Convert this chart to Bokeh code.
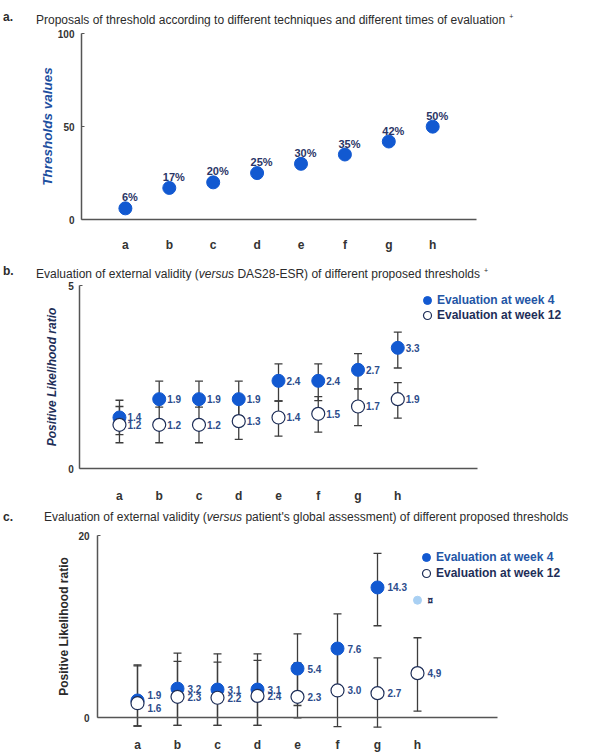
from bokeh.plotting import figure
from bokeh.layouts import column
from bokeh.models import (ColumnDataSource, Range1d, FixedTicker, Whisker, TeeHead,
                          Legend, LegendItem, Div)
from bokeh.core.properties import value
from bokeh.embed import file_html
from bokeh.resources import INLINE

# ---------------- data ----------------
categories = ["a", "b", "c", "d", "e", "f", "g", "h"]

# panel a: proposed thresholds (%)
a_thresholds = [6, 17, 20, 25, 30, 35, 42, 50]

# panel b: positive likelihood ratio vs DAS28-ESR
b_week4 = [1.4, 1.9, 1.9, 1.9, 2.4, 2.4, 2.7, 3.3]
b_week4_lower = [0.93, 1.68, 1.68, 1.45, 1.85, 1.86, 2.18, 2.75]
b_week4_upper = [1.87, 2.39, 2.39, 2.39, 2.86, 2.86, 3.14, 3.73]
b_week12 = [1.2, 1.2, 1.2, 1.3, 1.4, 1.5, 1.7, 1.9]
b_week12_lower = [0.71, 0.71, 0.71, 0.80, 0.89, 1.00, 1.18, 1.38]
b_week12_upper = [1.70, 1.90, 1.90, 1.85, 1.85, 1.97, 2.18, 2.35]

# panel c: positive likelihood ratio vs patient's global assessment
c_week4_cats = ["a", "b", "c", "d", "e", "f", "g"]
c_week4 = [1.9, 3.2, 3.1, 3.1, 5.4, 7.6, 14.3]
c_week4_lower = [-0.9, -0.84, -0.84, -0.84, 1.35, 2.9, 10.1]
c_week4_upper = [5.81, 7.1, 7.02, 7.02, 9.21, 11.4, 18.04]
c_week4_labels = ["1.9", "3.2", "3.1", "3.1", "5.4", "7.6", "14.3"]
c_week12 = [1.6, 2.3, 2.2, 2.4, 2.3, 3.0, 2.7, 4.9]
c_week12_lower = [-0.9, -0.84, -0.84, -0.84, 0.0, -0.96, -1.03, 0.73]
c_week12_upper = [5.70, 6.2, 6.1, 6.29, 6.03, 7.5, 6.57, 8.78]
c_week12_labels = ["1.6", "2.3", "2.2", "2.4", "2.3", "3.0", "2.7", "4,9"]
c_pending_cat = "h"
c_pending_value = 12.9
c_pending_label = "\u00a4"

# ---------------- styles / layout ----------------
FONT = "Liberation Sans"
BLUE = "#1259d1"
NAVY = "#1e2e58"
LABEL_BLUE = "#2d4d8c"
AXIS = "#555555"
WHISK = "#3d3d3d"

W = 600

idx = {c: i for i, c in enumerate(categories)}
overrides = {i: c for i, c in enumerate(categories)}


def xrange_for(axis_px, spacing):
    # category index -1 sits on the y axis at pixel axis_px (frame = whole figure)
    start = -1 - axis_px / spacing
    return Range1d(start, start + W / spacing)


def yrange_for(fig_top, fig_h, top_px, zero_px, vmax):
    ppu = (zero_px - top_px) / vmax
    end = vmax + (top_px - fig_top) / ppu
    start = -(fig_top + fig_h - zero_px) / ppu
    return Range1d(start, end), ppu


def title_div(letter, html, left, height, pad):
    t = ('<div style="position:relative;width:600px;height:%dpx;'
         "font-family:'Liberation Sans',Arial,sans-serif;font-size:12px;color:#2b2b2b;"
         'white-space:nowrap">'
         '<span style="position:absolute;left:3px;top:%dpx;line-height:18px;font-weight:bold">%s</span>'
         '<span style="position:absolute;left:%dpx;top:%dpx;line-height:18px">%s</span></div>'
         ) % (height, pad, letter, left, pad, html)
    return Div(text=t, width=W, height=height, margin=(0, 0, 0, 0))


def make_fig(h, xr, yr):
    return figure(width=W, height=h, x_range=xr, y_range=yr, output_backend="svg",
                  toolbar_location=None, min_border_left=0, min_border_right=0,
                  min_border_top=0, min_border_bottom=0)


def style_axes(p, yticks, ybounds, xbounds, ylabel, ylabel_style, ylabel_color,
               ylabel_size, ystand, ylabstand, xstand):
    p.outline_line_color = None
    p.grid.visible = False
    p.background_fill_color = "white"
    ax = p.xaxis[0]
    ax.fixed_location = 0
    ax.bounds = xbounds
    ax.ticker = FixedTicker(ticks=list(range(len(categories))))
    ax.major_label_overrides = overrides
    ax.major_tick_line_color = None
    ax.minor_tick_line_color = None
    ax.axis_line_color = AXIS
    ax.axis_line_width = 1.5
    ax.major_label_text_font = FONT
    ax.major_label_text_font_style = "bold"
    ax.major_label_text_font_size = "12px"
    ax.major_label_text_color = "#333333"
    ax.major_label_standoff = xstand
    ay = p.yaxis[0]
    ay.fixed_location = -1
    ay.bounds = ybounds
    ay.ticker = FixedTicker(ticks=yticks)
    ay.minor_tick_line_color = None
    ay.major_tick_in = 3
    ay.major_tick_out = 0
    ay.major_tick_line_color = AXIS
    ay.axis_line_color = AXIS
    ay.axis_line_width = 1.5
    ay.major_label_text_font = FONT
    ay.major_label_text_font_style = "bold"
    ay.major_label_text_font_size = "10px"
    ay.major_label_text_color = "#333333"
    ay.major_label_standoff = ystand
    ay.axis_label = ylabel
    ay.axis_label_text_font = FONT
    ay.axis_label_text_font_style = ylabel_style
    ay.axis_label_text_font_size = ylabel_size
    ay.axis_label_text_color = ylabel_color
    ay.axis_label_standoff = ylabstand


def add_whiskers(p, src, lower, upper):
    w = Whisker(source=src, base="x", lower=lower, upper=upper, dimension="height",
                line_color=WHISK, line_width=1.3, level="underlay",
                upper_head=TeeHead(size=8, line_color=WHISK, line_width=1.3),
                lower_head=TeeHead(size=8, line_color=WHISK, line_width=1.3))
    p.add_layout(w)


def add_legend(p, r4, r12, x, y4, y12):
    for r, lab, col, yy in ((r4, "Evaluation at week 4", "#2355a5", y4),
                            (r12, "Evaluation at week 12", NAVY, y12)):
        lg = Legend(items=[LegendItem(label=lab, renderers=[r])], location=(x, yy),
                    glyph_width=20, glyph_height=20, label_height=20, label_standoff=0,
                    padding=0, margin=0, spacing=0, border_line_color=None,
                    background_fill_alpha=0, label_text_font=FONT,
                    label_text_font_style="bold", label_text_font_size="12px",
                    label_text_color=col)
        p.add_layout(lg)


# ---------------- panel a ----------------
A_TOP, A_H = 26, 236
yr_a, _ = yrange_for(A_TOP, A_H, 33.3, 219.0, 100)
pa = make_fig(A_H, xrange_for(81, 43.9), yr_a)
style_axes(pa, [0, 50, 100], (0, 100), (-1, 8), "Thresholds values", "bold italic",
           "#1d4f9f", "13.5px", 7, 0, 12)
src_a = ColumnDataSource(dict(x=[idx[c] for c in categories], y=a_thresholds,
                              label=["%d%%" % v for v in a_thresholds]))
pa.scatter("x", "y", source=src_a, size=13, fill_color=BLUE, line_color=BLUE)
pa.text("x", "y", text="label", source=src_a, x_offset=4.5, y_offset=-11,
        text_align="center", text_baseline="middle", text_font=value(FONT),
        text_font_style="bold", text_font_size="11px", text_color="#2a3566")

# ---------------- panel b ----------------
B_TOP, B_H = 280, 228
yr_b, _ = yrange_for(B_TOP, B_H, 285.0, 468.3, 5)
pb = make_fig(B_H, xrange_for(79.2, 39.76), yr_b)
style_axes(pb, [0, 5], (0, 5), (-1, 9), "Positive Likelihood ratio", "bold italic", NAVY,
           "12px", 6, 6, 14)
xs = [idx[c] for c in categories]
src_b4 = ColumnDataSource(dict(x=xs, y=b_week4, lo=b_week4_lower, hi=b_week4_upper,
                               label=["%.1f" % v for v in b_week4]))
src_b12 = ColumnDataSource(dict(x=xs, y=b_week12, lo=b_week12_lower, hi=b_week12_upper,
                                label=["%.1f" % v for v in b_week12]))
add_whiskers(pb, src_b4, "lo", "hi")
add_whiskers(pb, src_b12, "lo", "hi")
rb4 = pb.scatter("x", "y", source=src_b4, size=13, fill_color=BLUE, line_color=BLUE)
rb12 = pb.scatter("x", "y", source=src_b12, size=13, fill_color="white",
                  line_color=NAVY, line_width=1.2)
for s in (src_b4, src_b12):
    pb.text("x", "y", text="label", source=s, x_offset=8, text_align="left",
            text_baseline="middle", text_font=value(FONT), text_font_style="bold",
            text_font_size="10px", text_color=LABEL_BLUE)
add_legend(pb, rb4, rb12, 417, B_TOP + B_H - 310, B_TOP + B_H - 325)

# ---------------- panel c ----------------
C_TOP, C_H = 526, 227
yr_c, c_ppu = yrange_for(C_TOP, C_H, 535.0, 717.3, 20)
pc = make_fig(C_H, xrange_for(97, 40.0), yr_c)
style_axes(pc, [0, 20], (0, 20), (-1, 9), "Positive Likelihood ratio", "bold", "#2a2a2a",
           "12px", 8, 4, 14)

# spread labels that would overlap
w12_by_cat = dict(zip(categories, c_week12))
off12 = [0 for _ in categories]
off4 = []
for i, c in enumerate(c_week4_cats):
    sep = (c_week4[i] - w12_by_cat[c]) * c_ppu
    if sep < 6:
        off4.append(-5)
        off12[idx[c]] = 5
    else:
        off4.append(0)

src_c4 = ColumnDataSource(dict(x=[idx[c] for c in c_week4_cats], y=c_week4,
                               lo=c_week4_lower, hi=c_week4_upper,
                               label=c_week4_labels, yo=off4))
src_c12 = ColumnDataSource(dict(x=xs, y=c_week12, lo=c_week12_lower, hi=c_week12_upper,
                                label=c_week12_labels, yo=off12))
add_whiskers(pc, src_c4, "lo", "hi")
add_whiskers(pc, src_c12, "lo", "hi")
rc4 = pc.scatter("x", "y", source=src_c4, size=13, fill_color=BLUE, line_color=BLUE)
rc12 = pc.scatter("x", "y", source=src_c12, size=13, fill_color="white",
                  line_color=NAVY, line_width=1.2)
for s in (src_c4, src_c12):
    pc.text("x", "y", text="label", source=s, x_offset=10, y_offset="yo",
            text_align="left", text_baseline="middle", text_font=value(FONT),
            text_font_style="bold", text_font_size="10px", text_color=LABEL_BLUE)
src_pend = ColumnDataSource(dict(x=[idx[c_pending_cat]], y=[c_pending_value],
                                 label=[c_pending_label]))
pc.scatter("x", "y", source=src_pend, size=8, fill_color="#a9d0f3", line_color="#a9d0f3")
pc.text("x", "y", text="label", source=src_pend, x_offset=10, text_align="left",
        text_baseline="middle", text_font=value(FONT), text_font_style="bold",
        text_font_size="10px", text_color=NAVY)
add_legend(pc, rc4, rc12, 416, C_TOP + C_H - 567, C_TOP + C_H - 583)

# ---------------- titles ----------------
SUP = '<span style="font-size:7px;vertical-align:5px;margin-left:4px">+</span>'
da = title_div("a.", "Proposals of threshold according to different techniques and different "
               "times of evaluation" + SUP, 36, 26, 8)
db = title_div("b.", "Evaluation of external validity (<i>versus</i> DAS28-ESR) of different "
               "proposed thresholds" + SUP, 36, 18, 0)
dc = title_div("c.", "Evaluation of external validity (<i>versus</i> patient's global assessment) "
               "of different proposed thresholds", 44, 18, 0)

layout = column(da, pa, db, pb, dc, pc, spacing=0)
open("out.html", "w").write(file_html(layout, INLINE))
